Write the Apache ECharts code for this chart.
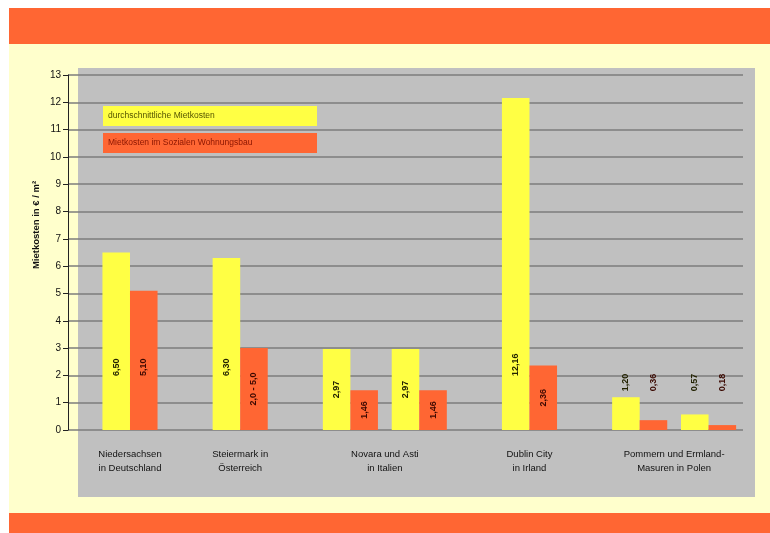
<!DOCTYPE html>
<html>
<head>
<meta charset="utf-8">
<script src="https://cdn.jsdelivr.net/npm/echarts@6/dist/echarts.min.js"></script>
<style>
html,body{margin:0;padding:0;background:#ffffff;}
#c{width:770px;height:533px;}
</style>
</head>
<body>
<div id="c"></div>
<script>
// ---- data ----
const groupNames = ['Niedersachsen\nin Deutschland', 'Steiermark in\nÖsterreich', 'Novara und Asti\nin Italien', 'Dublin City\nin Irland', 'Pommern und Ermland-\nMasuren in Polen'];
const pairsPerGroup = [1, 1, 2, 1, 2];
const avgRent = [6.50, 6.30, 2.97, 2.97, 12.16, 1.20, 0.57];
const socialRent = [5.10, 3.00, 1.46, 1.46, 2.36, 0.36, 0.18];
const avgLabels = ['6,50', '6,30', '2,97', '2,97', '12,16', '1,20', '0,57'];
const socialLabels = ['5,10', '2,0 - 5,0', '1,46', '1,46', '2,36', '0,36', '0,18'];
const seriesNames = ['durchschnittliche Mietkosten', 'Mietkosten im Sozialen Wohnungsbau'];
const yAxisName = 'Mietkosten in € / m²';
const yMin = 0, yMax = 13, yStep = 1;

// ---- layout (slots: each bar spans two slots) ----
const lead = 2.5, pairW = 4, gapIn = 1, gapOut = 4, totalSlots = 49;
const slotLabels = Array.from({length: totalSlots}, (_, i) => String(i));
const yellowData = new Array(totalSlots).fill(null);
const redData = new Array(totalSlots).fill(null);
const groupCenters = [];
let s = lead, p = 0;
const plotH = 355; // px from 0 to 13
const pxPerUnit = plotH / (yMax - yMin);

function labelFor(v, text, color) {
  const base = {show: true, formatter: text, rotate: 90, color: color, fontSize: 9, fontWeight: 'bold', fontFamily: 'Liberation Sans, Arial, sans-serif'};
  if (v < 1.3) {
    return Object.assign(base, {position: 'top', align: 'left', verticalAlign: 'middle', distance: Math.max(5, (1.42 - v) * pxPerUnit)});
  } else if (v > 4.5) {
    return Object.assign(base, {position: 'insideBottom', align: 'left', verticalAlign: 'middle', distance: 54});
  }
  return Object.assign(base, {position: 'inside'});
}

pairsPerGroup.forEach((n, g) => {
  const gStart = s;
  for (let k = 0; k < n; k++) {
    const yi = Math.floor(s + 1), ri = Math.floor(s + 3);
    yellowData[yi] = {value: avgRent[p], label: labelFor(avgRent[p], avgLabels[p], '#222200')};
    redData[ri] = {value: socialRent[p], label: labelFor(socialRent[p], socialLabels[p], '#3a0800')};
    s += pairW;
    p++;
    if (k < n - 1) s += gapIn;
  }
  groupCenters.push((gStart + s) / 2);
  s += gapOut;
});

const chart = echarts.init(document.getElementById('c'));
const font = 'Liberation Sans, Arial, sans-serif';
chart.setOption({
  animation: false,
  backgroundColor: '#ffffff',
  grid: {left: 68, right: 27, top: 75, bottom: 103, containLabel: false},
  xAxis: [{
    type: 'category', data: slotLabels, gridIndex: 0,
    axisLine: {show: false}, axisTick: {show: false}, axisLabel: {show: false}, splitLine: {show: false}
  }, {
    type: 'value', min: 0, max: totalSlots, gridIndex: 0, position: 'bottom',
    axisLine: {show: false}, axisTick: {show: false}, splitLine: {show: false},
    axisLabel: {
      customValues: groupCenters, margin: 17, color: '#111', fontSize: 9.5, fontFamily: font, lineHeight: 14,
      formatter: v => { const i = groupCenters.findIndex(c => Math.abs(c - v) < 1e-6); return i >= 0 ? groupNames[i] : ''; }
    }
  }],
  yAxis: {
    type: 'value', min: yMin, max: yMax, interval: yStep,
    axisLine: {show: true, lineStyle: {color: '#222', width: 1}},
    axisTick: {show: true, length: 5, lineStyle: {color: '#222'}},
    axisLabel: {color: '#111', fontSize: 10, fontFamily: font, margin: 7},
    splitLine: {show: true, lineStyle: {color: '#7c7c7c', width: 1.6}}
  },
  graphic: [
    {type: 'rect', z: -20, shape: {x: 9, y: 44, width: 761, height: 469}, style: {fill: '#ffffcc'}},
    {type: 'rect', z: -20, shape: {x: 9, y: 8, width: 761, height: 36}, style: {fill: '#ff6633'}},
    {type: 'rect', z: -20, shape: {x: 9, y: 513, width: 761, height: 20}, style: {fill: '#ff6633'}},
    {type: 'rect', z: -15, shape: {x: 78, y: 68, width: 677, height: 429}, style: {fill: '#c0c0c0'}},
    {type: 'rect', z: 10, shape: {x: 103, y: 106, width: 214, height: 20}, style: {fill: '#ffff44'}},
    {type: 'text', z: 11, x: 108, y: 116, style: {text: seriesNames[0], fill: '#555500', fontSize: 8.5, fontFamily: font, verticalAlign: 'middle'}},
    {type: 'rect', z: 10, shape: {x: 103, y: 133, width: 214, height: 20}, style: {fill: '#ff6633'}},
    {type: 'text', z: 11, x: 108, y: 143, style: {text: seriesNames[1], fill: '#8a1500', fontSize: 8.5, fontFamily: font, verticalAlign: 'middle'}},
    {type: 'text', z: 11, x: 36, y: 225, rotation: Math.PI / 2, style: {text: yAxisName, fill: '#111', fontSize: 9.5, fontWeight: 'bold', fontFamily: font, align: 'center', verticalAlign: 'middle'}}
  ],
  series: [
    {name: seriesNames[0], type: 'bar', stack: 'all', xAxisIndex: 0, data: yellowData, barWidth: '200%', itemStyle: {color: '#ffff44'}},
    {name: seriesNames[1], type: 'bar', stack: 'all', xAxisIndex: 0, data: redData, barWidth: '200%', itemStyle: {color: '#ff6633'}}
  ]
});
</script>
</body>
</html>
